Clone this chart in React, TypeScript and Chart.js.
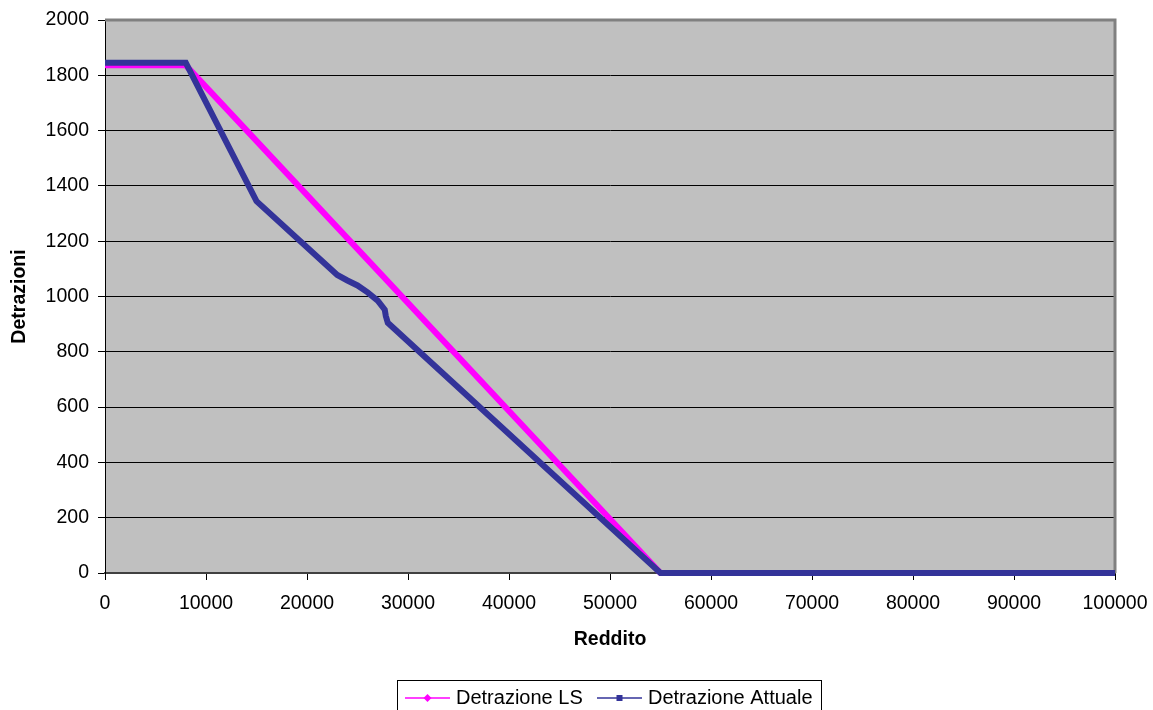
import { useEffect, useRef } from "react";
import { Chart, registerables } from "chart.js";

Chart.register(...registerables);

const FONT = "'Liberation Sans', Arial, Helvetica, sans-serif";

const redditoLS = [0, 8000, 55000, 100000];
const detrazioneLS = [1836, 1836, 0, 0];

const redditoAttuale = [0, 8000, 15000, 23000, 24000, 25000, 26000, 27000, 27700, 27800, 28000, 55000, 100000];
const detrazioneAttuale = [1845, 1845, 1345, 1078, 1058, 1040, 1015, 985, 952, 930, 905, 0, 0];

const legendLabels = ["Detrazione LS", "Detrazione Attuale"];
const seriesColors = ["#FF00FF", "#333399"];

export default function App() {
  const ref = useRef<HTMLCanvasElement>(null);

  useEffect(() => {
    document.body.style.margin = "0";
    const canvas = ref.current;
    if (!canvas) return;

    const bgPlugin = {
      id: "plotBg",
      beforeDraw(chart: any) {
        const { ctx, chartArea } = chart;
        ctx.save();
        ctx.fillStyle = "#C0C0C0";
        ctx.fillRect(chartArea.left, chartArea.top, chartArea.right - chartArea.left, chartArea.bottom - chartArea.top);
        ctx.restore();
      },
      beforeDatasetsDraw(chart: any) {
        const { ctx, chartArea } = chart;
        ctx.save();
        ctx.strokeStyle = "#808080";
        ctx.lineWidth = 3;
        ctx.beginPath();
        ctx.moveTo(chartArea.left, chartArea.top);
        ctx.lineTo(chartArea.right, chartArea.top);
        ctx.lineTo(chartArea.right, chartArea.bottom);
        ctx.stroke();
        ctx.restore();
      },
    };

    const legendPlugin = {
      id: "boxLegend",
      afterDraw(chart: any) {
        const { ctx } = chart;
        ctx.save();
        ctx.font = `20px ${FONT}`;
        ctx.textBaseline = "middle";
        ctx.textAlign = "left";
        const y = 698;
        const items = [
          { x0: 405, x1: 450, label: legendLabels[0], color: seriesColors[0], marker: "diamond" },
          { x0: 597, x1: 642, label: legendLabels[1], color: seriesColors[1], marker: "square" },
        ];
        const lastEnd = items[1].x1 + 6 + ctx.measureText(items[1].label).width;
        ctx.strokeStyle = "#000";
        ctx.lineWidth = 1;
        ctx.strokeRect(397.5, 680.5, Math.round(lastEnd + 8 - 397), 40);
        for (const it of items) {
          ctx.strokeStyle = it.color;
          ctx.fillStyle = it.color;
          ctx.lineWidth = 1.5;
          ctx.beginPath();
          ctx.moveTo(it.x0, y);
          ctx.lineTo(it.x1, y);
          ctx.stroke();
          const cx = (it.x0 + it.x1) / 2;
          ctx.beginPath();
          if (it.marker === "diamond") {
            ctx.moveTo(cx, y - 4);
            ctx.lineTo(cx + 4, y);
            ctx.lineTo(cx, y + 4);
            ctx.lineTo(cx - 4, y);
            ctx.closePath();
            ctx.fill();
          } else {
            ctx.fillRect(cx - 3, y - 3, 6, 6);
          }
          ctx.fillStyle = "#000";
          ctx.fillText(it.label, it.x1 + 6, y);
        }
        ctx.restore();
      },
    };

    const chart = new Chart(canvas, {
      type: "line",
      data: {
        datasets: [
          {
            label: legendLabels[0],
            data: redditoLS.map((x, i) => ({ x, y: detrazioneLS[i] })),
            borderColor: seriesColors[0],
            backgroundColor: seriesColors[0],
            borderWidth: 6,
            pointRadius: 0,
            tension: 0,
            clip: false as any,
            order: 1,
          },
          {
            label: legendLabels[1],
            data: redditoAttuale.map((x, i) => ({ x, y: detrazioneAttuale[i] })),
            borderColor: seriesColors[1],
            backgroundColor: seriesColors[1],
            borderWidth: 6,
            pointRadius: 0,
            tension: 0,
            clip: false as any,
            order: 0,
          },
        ],
      },
      options: {
        animation: false,
        responsive: false,
        devicePixelRatio: 1,
        layout: { padding: { left: 0, top: 20, right: 38, bottom: 0 } },
        plugins: {
          legend: { display: false },
          tooltip: { enabled: false },
        },
        scales: {
          x: {
            type: "linear",
            min: 0,
            max: 100000,
            ticks: {
              stepSize: 10000,
              autoSkip: false,
              maxRotation: 0,
              color: "#000",
              padding: 12,
              font: { family: FONT, size: 19.5 },
              callback: (v: any) => String(v),
            },
            grid: { drawOnChartArea: false, drawTicks: true, tickLength: 7, color: "#000" },
            border: { color: "#404040", width: 2 },
            title: {
              display: true,
              text: "Reddito",
              color: "#000",
              font: { family: FONT, size: 19.5, weight: "bold" },
              padding: { top: 0, bottom: 59 },
            },
            afterFit(s: any) {
              s.height = 137;
              s.paddingLeft = 0;
              s.paddingRight = 0;
            },
          },
          y: {
            min: 0,
            max: 2000,
            ticks: {
              stepSize: 200,
              color: "#000",
              padding: 9,
              font: { family: FONT, size: 19.5 },
              callback: (v: any) => String(v),
            },
            grid: { color: "#000", lineWidth: 1, tickLength: 7, drawTicks: true },
            border: { color: "#000", width: 1 },
            title: {
              display: true,
              text: "Detrazioni",
              color: "#000",
              font: { family: FONT, size: 19.5, weight: "bold" },
              padding: { top: 8, bottom: 0 },
            },
            afterFit(s: any) {
              s.width = 105;
              s.paddingTop = 0;
              s.paddingBottom = 0;
            },
          },
        },
      } as any,
      plugins: [bgPlugin, legendPlugin],
    });

    return () => chart.destroy();
  }, []);

  return (
    <div style={{ width: 1153, height: 710, background: "#fff" }}>
      <canvas ref={ref} width={1153} height={710} style={{ display: "block" }} />
    </div>
  );
}
